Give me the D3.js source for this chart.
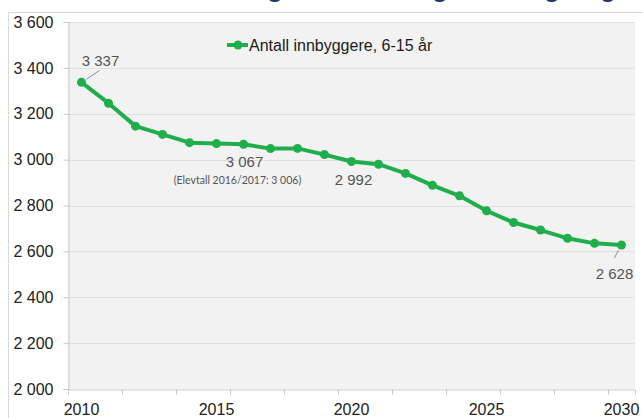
<!DOCTYPE html>
<html>
<head>
<meta charset="utf-8">
<script src="https://cdn.jsdelivr.net/npm/d3@7"></script>
<style>
  body { margin: 0; background: #fff; }
  svg { display: block; font-family: "Liberation Sans", Arial, sans-serif; }
</style>
</head>
<body>
<div class="chart"></div>
<script>
const width = 643;
const height = 418;
const margin = {top: 22, right: 8, bottom: 29, left: 68}

// data
const years = [2010, 2011, 2012, 2013, 2014, 2015, 2016, 2017, 2018, 2019, 2020,
               2021, 2022, 2023, 2024, 2025, 2026, 2027, 2028, 2029, 2030]
const innbyggere = [3337, 3246, 3146, 3110, 3074, 3070, 3067, 3048, 3049, 3022, 2992,
                    2980, 2940, 2888, 2842, 2777, 2726, 2693, 2657, 2635, 2628]
const yTicks = [2000, 2200, 2400, 2600, 2800, 3000, 3200, 3400, 3600]
const xLabels = [2010, 2015, 2020, 2025, 2030]
const labelledYears = [2010, 2016, 2020, 2030]
const seriesName = 'Antall innbyggere, 6-15 år'
const noteText = '(Elevtall 2016/2017: 3 006)'

const green = '#1fae4b'
const fmt = v => d3.format(',')(v).replace(',', ' ')

const svg = d3.select('.chart').append('svg')
  .attr('width', width)
  .attr('height', height)

// title, only the descenders peek in under the top edge
svg.append('text')
  .attr('y', -3.5)
  .attr('font-size', 26)
  .attr('font-weight', 'bold')
  .attr('fill', '#1f3a6e')
  .selectAll('tspan')
  .data([275, 440, 552, 608])
  .join('tspan')
  .attr('x', d => d)
  .attr('text-anchor', 'middle')
  .text('g')

// chart frame
svg.append('rect')
  .attr('x', 8.5).attr('y', 12.5)
  .attr('width', width).attr('height', height)
  .attr('fill', '#fff')
  .attr('stroke', '#d9d9d9')

const x = d3.scaleLinear() // category axis: each year takes one slot
  .domain([years[0] - 0.5, years[years.length - 1] + 0.5])
  .range([margin.left, width - margin.right])

const y = d3.scaleLinear()
  .domain([2000, 3600])
  .range([height - margin.bottom, margin.top])

// plot area
svg.append('rect')
  .attr('x', x.range()[0]).attr('y', y.range()[1])
  .attr('width', x.range()[1] - x.range()[0])
  .attr('height', y.range()[0] - y.range()[1])
  .attr('fill', '#f2f2f2')

// gridlines
svg.append('g')
  .selectAll('line')
  .data(yTicks.slice(1))
  .join('line')
  .attr('x1', x.range()[0]).attr('x2', x.range()[1])
  .attr('y1', d => Math.round(y(d)) + 0.5).attr('y2', d => Math.round(y(d)) + 0.5)
  .attr('stroke', '#e0e0e0')

// y axis
const yAxis = svg.append('g')
  .attr('transform', `translate(${x.range()[0] + 0.5},0)`)
  .call(d3.axisLeft(y).tickValues(yTicks).tickFormat(fmt).tickSize(5).tickPadding(10))
yAxis.select('.domain').attr('stroke', '#c8c8c8')
yAxis.selectAll('.tick line').attr('stroke', '#c8c8c8')
yAxis.selectAll('.tick text')
  .attr('font-size', 16).attr('fill', '#222').attr('font-family', 'Liberation Sans, Arial')

// x axis: tick marks between categories, every second one
const tickMarks = d3.range(years[0] - 0.5, years[years.length - 1], 2)
const xAxis = svg.append('g')
  .attr('transform', `translate(0,${Math.round(y(2000)) + 0.5})`)
  .call(d3.axisBottom(x).tickValues(tickMarks).tickSize(5).tickFormat(''))
xAxis.select('.domain').attr('stroke', '#c8c8c8')
xAxis.selectAll('.tick line').attr('stroke', '#c8c8c8')

svg.append('g')
  .selectAll('text')
  .data(xLabels)
  .join('text')
  .attr('x', d => x(d))
  .attr('y', 415)
  .attr('text-anchor', 'middle')
  .attr('font-size', 16)
  .attr('fill', '#222')
  .text(d => d)

// the line
const data = years.map((yr, i) => ({year: yr, value: innbyggere[i]}))
svg.append('path')
  .datum(data)
  .attr('fill', 'none')
  .attr('stroke', green)
  .attr('stroke-width', 4)
  .attr('stroke-linejoin', 'round')
  .attr('d', d3.line().x(d => x(d.year)).y(d => y(d.value)))

svg.append('g')
  .selectAll('circle')
  .data(data)
  .join('circle')
  .attr('cx', d => x(d.year))
  .attr('cy', d => y(d.value))
  .attr('r', 4.5)
  .attr('fill', green)

// data labels
const labelPos = {2010: [19, -16], 2016: [1, 23], 2020: [2, 24], 2030: [-7, 34]}
const labels = data.filter(d => labelledYears.includes(d.year))
svg.append('g')
  .selectAll('text')
  .data(labels)
  .join('text')
  .attr('x', d => x(d.year) + labelPos[d.year][0])
  .attr('y', d => y(d.value) + labelPos[d.year][1])
  .attr('text-anchor', 'middle')
  .attr('font-size', 15)
  .attr('fill', '#555')
  .text(d => fmt(d.value))

// leader lines for first and last label
svg.append('line')
  .attr('x1', x(2010) + 5).attr('y1', y(innbyggere[0]) - 3)
  .attr('x2', x(2010) + 18).attr('y2', y(innbyggere[0]) - 12)
  .attr('stroke', '#8c8c8c')
svg.append('line')
  .attr('x1', x(2030) - 3).attr('y1', y(innbyggere[20]) + 5)
  .attr('x2', x(2030) - 7).attr('y2', y(innbyggere[20]) + 13)
  .attr('stroke', '#8c8c8c')

svg.append('text')
  .attr('x', x(2016) - 6)
  .attr('y', y(innbyggere[6]) + 40)
  .attr('text-anchor', 'middle')
  .attr('font-family', 'Lato')
  .attr('font-size', 10.5)
  .attr('fill', '#555')
  .text(noteText)

// legend
const legend = svg.append('g').attr('transform', 'translate(227,45)')
legend.append('line')
  .attr('x1', 0).attr('x2', 21)
  .attr('stroke', green).attr('stroke-width', 4)
legend.append('circle')
  .attr('cx', 11).attr('r', 4.5).attr('fill', green)
legend.append('text')
  .attr('x', 22).attr('y', 5.5)
  .attr('font-size', 16)
  .attr('fill', '#1a1a1a')
  .text(seriesName)
</script>
</body>
</html>
